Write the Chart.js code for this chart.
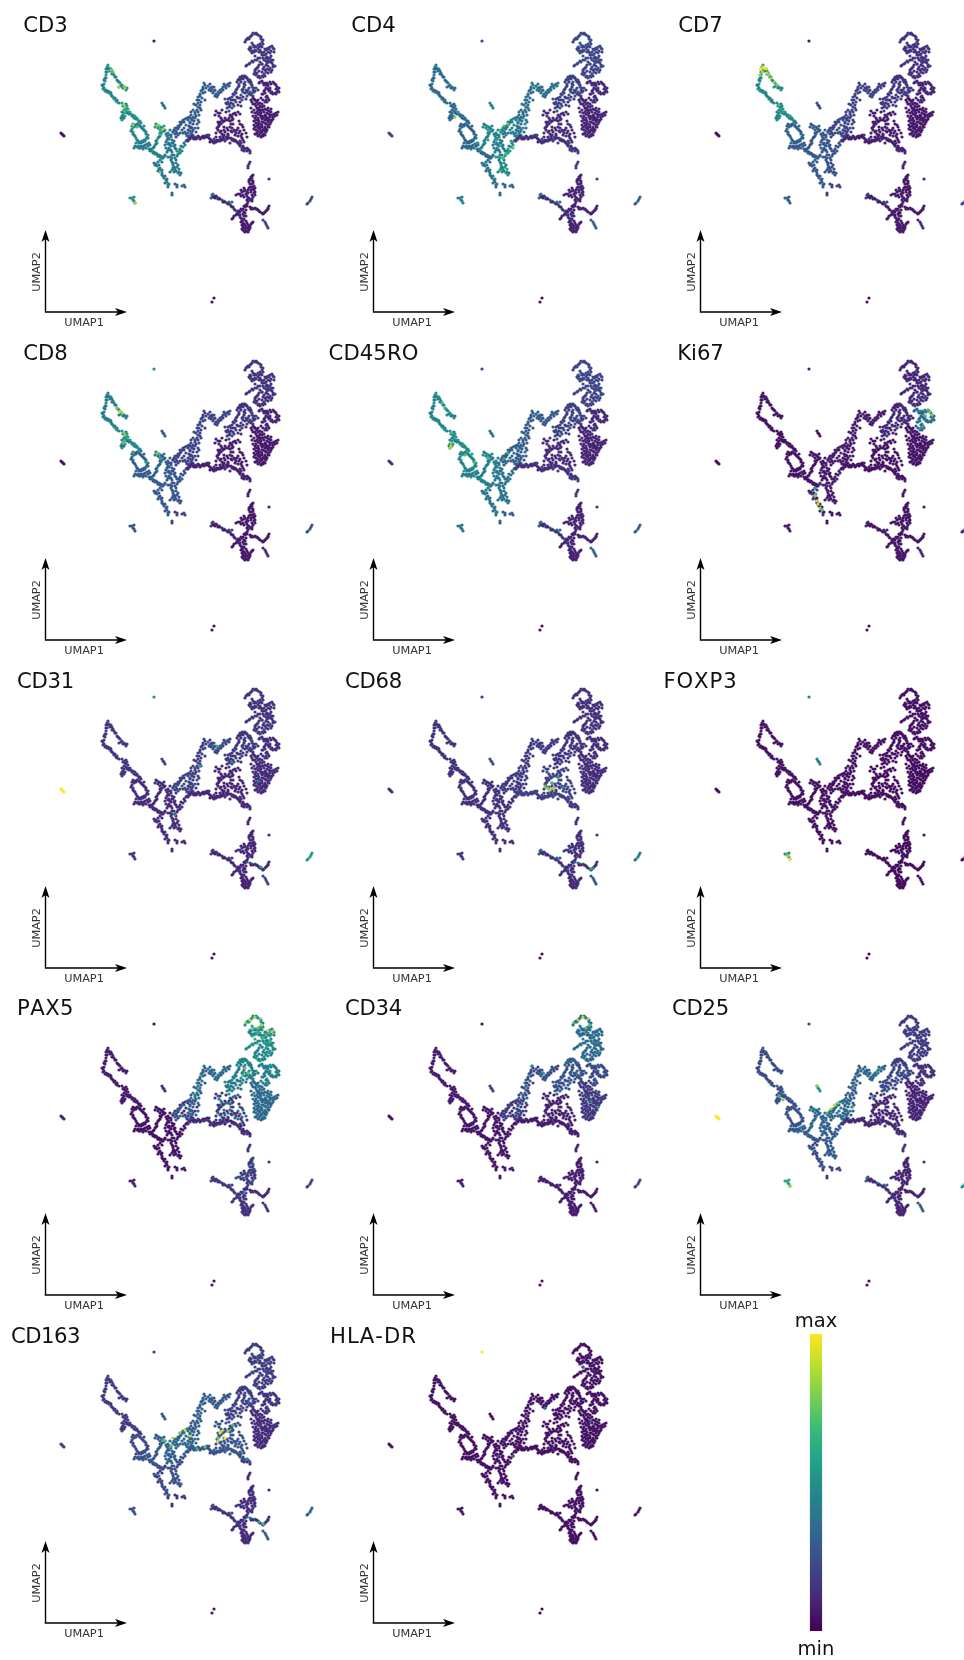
<!DOCTYPE html>
<html><head><meta charset="utf-8">
<script src="https://cdn.jsdelivr.net/npm/chart.js@4"></script>
<style>
html,body{margin:0;padding:0;background:#fff;width:964px;height:1660px;overflow:hidden}
canvas{position:absolute;filter:blur(0.35px)}
</style></head><body>
<script>
// UMAP embedding, grouped in the branches of the map [umap1, umap2]
const wingTop=[[107,67],[108,65],[106,69],[109,68],[111,69],[112,71],[113,73],[114,75],[116,77],[117,80],[119,82],[120,83],[122,85],[124,87],[125,88],[126,90],[119,87],[107,72],[106,75],[105,78],[105,81],[104,84],[103,86],[103,89],[105,91],[107,92],[109,93],[110,92]];
const wingMid=[[111,95],[113,97],[114,99],[116,101],[117,102],[122,103],[124,105],[125,107],[127,106],[128,109],[126,111],[124,113],[123,115],[123,118],[122,120],[125,116],[128,112],[130,112],[131,114],[133,115],[135,116],[137,118],[138,120],[140,121]];
const ovalLeft=[[133,124],[134,127],[136,126],[139,125],[141,127],[143,129],[145,131],[146,134],[147,137],[146,139],[144,140],[142,141],[140,142],[138,141],[136,138],[134,135],[133,132],[132,129],[141,123],[144,126],[136,143],[148,135]];
const junctionLine=[[137,147],[139,147],[141,146],[143,146],[145,145],[147,144],[149,143],[146,148],[149,149],[151,150],[152,151],[154,152],[156,153],[157,154],[159,155],[161,156],[163,157],[165,156],[143,149],[139,148]];
const centerHot=[[157,125],[159,126],[161,127],[163,129],[162,132],[161,134],[160,136],[158,138],[157,140],[157,143],[155,145],[153,148],[152,150],[164,126],[160,130],[155,127],[165,130]];
const centerB=[[168,133],[167,136],[168,138],[167,140],[169,143],[170,145],[169,148],[168,150],[172,140],[173,143],[171,137],[174,146],[165,145],[166,148],[171,150],[173,132],[170,130],[175,148],[172,152]];
const armDown=[[158,156],[160,160],[158,162],[155,165],[157,166],[160,168],[161,171],[162,173],[163,176],[164,178],[166,180],[167,182],[168,185],[168,187],[162,162],[163,158],[165,155],[158,171]];
const armRight=[[170,157],[172,158],[175,158],[177,156],[178,154],[180,153],[180,149],[183,147],[185,145],[172,162],[173,165],[175,168],[175,170],[178,173],[180,175],[172,170],[177,167],[174,172],[176,163],[179,169],[168,157],[182,151]];
const smallBits=[[175,184],[177,185],[177,187],[182,186],[184,185],[185,187],[172,193],[172,195]];
const triangle=[[132,198],[130,198],[134,197],[133,200],[134,201],[135,203]];
const upperCenter=[[175,128],[178,126],[180,125],[183,120],[185,119],[188,120],[190,118],[192,128],[173,132],[176,131],[178,135],[182,130],[185,132],[187,136],[188,133],[191,134],[193,135],[180,122],[186,125],[190,122],[195,128],[197,124],[178,129],[195,118],[171,135],[184,128]];
const spine=[[187,140],[189,138],[191,137],[193,138],[195,137],[197,138],[199,137],[201,138],[203,136],[205,136],[207,135],[209,138],[211,140],[213,142],[215,141],[217,140],[219,140],[221,139],[223,138],[226,137],[228,137],[231,138],[233,139],[235,140],[237,142],[239,144],[240,146],[242,148],[241,143],[244,148],[247,148],[249,150],[250,151],[209,135],[214,139],[225,141],[230,143]];
const riseLeft=[[190,128],[190,123],[192,120],[193,117],[195,114],[195,112],[197,110],[198,107],[198,103],[197,100],[198,97],[200,94],[201,91],[202,90],[203,87],[204,83],[199,115],[193,110],[200,105],[202,98],[198,120],[191,115],[205,92]];
const topBar=[[208,86],[210,88],[212,89],[213,93],[215,90],[216,94],[217,97],[218,92],[220,90],[222,89],[223,87],[225,86],[227,85],[228,84],[214,87],[219,93]];
const loopMid=[[218,130],[218,127],[219,124],[220,122],[222,120],[224,121],[226,120],[228,120],[230,121],[232,117],[232,120],[231,124],[230,127],[228,130],[225,132],[222,134],[220,132],[232,132],[235,131],[238,128],[240,131],[242,134],[242,138],[238,136],[235,135],[233,114],[235,113],[238,112],[230,115],[218,113],[219,116],[221,118],[243,127],[246,133],[224,127],[228,134],[240,124]];
const rightUp=[[228,102],[229,104],[230,106],[227,108],[229,111],[232,108],[231,100],[232,97],[234,95],[235,92],[236,90],[238,87],[239,84],[240,80],[240,77],[242,76],[245,76],[247,78],[250,80],[251,84],[252,87],[253,90],[245,82],[245,85],[243,89],[243,92],[246,90],[248,90],[250,92],[252,93],[241,95],[238,98],[236,102],[234,106],[247,96],[249,88],[242,100],[225,99],[256,88]];
const rightDense=[[253,98],[255,100],[257,102],[258,104],[260,106],[262,107],[263,110],[261,113],[260,115],[258,118],[258,120],[256,123],[255,127],[256,130],[257,133],[259,135],[262,135],[264,134],[266,132],[267,130],[269,127],[270,124],[272,120],[273,117],[270,115],[267,113],[265,115],[263,118],[265,120],[268,122],[262,122],[262,125],[265,127],[260,127],[263,130],[258,125],[266,124],[260,110],[264,112],[268,118],[271,112],[256,106],[254,110],[253,116],[257,112],[268,108],[255,134],[261,131],[259,121],[270,120],[274,114],[276,113]];
const rightRing=[[260,82],[263,83],[265,83],[267,83],[270,82],[273,82],[275,84],[277,87],[278,90],[277,92],[275,93],[272,92],[270,90],[270,88],[268,86],[265,90],[265,93],[267,96],[268,98],[266,100],[265,102],[262,94]];
const topLoop=[[246,40],[248,38],[250,37],[252,35],[255,34],[257,34],[260,36],[261,39],[262,42],[260,44],[258,45],[255,46],[253,45],[250,47],[250,50],[252,53],[254,52],[255,50],[258,49],[260,50],[262,53],[263,55],[266,50],[268,48],[270,47],[273,48],[265,55],[267,57],[270,58],[271,60],[272,63],[273,67],[270,53],[268,60],[267,63],[264,60],[260,58],[257,60],[253,62],[250,63],[247,65],[262,47],[255,56],[252,43]];
const lowerRing=[[258,67],[256,69],[255,72],[256,75],[258,77],[260,78],[263,77],[264,74],[265,70],[264,67],[262,64],[268,73],[269,70],[270,68],[266,65],[242,77],[240,79],[238,80],[244,76],[247,78],[250,82]];
const bottomOval=[[252,176],[252,178],[253,181],[253,183],[254,186],[254,190],[254,193],[253,197],[252,199],[250,200],[248,198],[248,193],[248,190],[250,187],[250,184],[249,182],[250,179],[242,192],[243,195],[240,194],[236,195],[238,194],[245,190],[246,194],[251,192],[248,202],[246,205],[245,207],[243,209],[242,210],[240,212],[238,213],[236,215],[233,218],[245,213],[246,210],[244,216]];
const diagLine=[[212,195],[211,198],[213,194],[214,196],[217,197],[219,198],[222,200],[224,201],[227,203],[230,204],[232,202],[229,202],[232,207],[234,209],[237,212],[239,215],[240,217],[242,219],[243,220]];
const hook=[[250,207],[252,208],[255,208],[257,209],[259,211],[262,213],[264,213],[265,212],[267,210],[268,208],[247,206]];
const bottomFoot=[[243,223],[243,226],[243,228],[243,230],[245,225],[245,228],[248,225],[248,228],[247,231],[248,232],[252,223],[250,226],[250,228],[245,232],[241,222],[246,221]];
const dotTop=[[154,41]];
const leftStub=[[61,133],[62,134],[63,135],[64,136]];
const midStub=[[162,103],[163,105],[164,106],[165,108]];
const upperStub=[[242,150],[244,151],[247,151],[250,153],[250,162],[249,164],[248,166],[248,168],[269,179]];
const edgeStub=[[312,197],[311,199],[310,201],[308,203],[307,204]];
const lowDots=[[214,298],[212,302]];
const rightStub=[[263,220],[265,222],[266,224],[267,226],[268,228]];

const branches=[wingTop,wingMid,ovalLeft,junctionLine,centerHot,centerB,armDown,armRight,smallBits,triangle,upperCenter,spine,riseLeft,topBar,loopMid,rightUp,rightDense,rightRing,topLoop,lowerRing,bottomOval,diagLine,hook,bottomFoot,dotTop,leftStub,midStub,upperStub,edgeStub,lowDots,rightStub];

// second tracing: cells between the ones above, usually of a different tone
const fillWing=[[108,69],[110,71],[112,74],[115,77],[118,81],[121,86],[123,88],[127,88],[106,72],[106,78],[104,80],[102,85],[104,88],[106,90],[108,91],[111,93],[112,96],[115,98],[117,100],[119,103],[123,106],[126,104],[126,108],[124,110],[122,112],[122,116],[124,118],[121,118],[127,113],[129,114],[132,116],[134,118],[136,119],[139,122]];
const fillOval=[[132,126],[135,125],[137,124],[140,126],[142,128],[144,130],[146,132],[148,138],[145,141],[143,142],[141,143],[139,143],[137,140],[135,136],[133,134],[131,131],[138,146],[140,148],[142,147],[144,147],[148,146],[150,145],[150,151],[153,153],[155,154],[158,156],[160,157],[162,158],[135,146],[134,148]];
const fillCenter=[[156,124],[158,128],[162,128],[164,131],[160,133],[159,137],[156,141],[156,144],[154,147],[151,149],[166,134],[169,135],[169,139],[166,142],[168,144],[171,146],[170,150],[167,152],[172,143],[174,141],[175,145],[176,149],[177,151],[179,151],[181,146],[184,143],[186,141],[172,155],[174,155],[176,160],[171,160],[173,163],[178,165],[174,167],[176,171],[179,172],[181,173],[173,168],[170,172],[156,164],[159,165],[159,169],[162,170],[162,175],[165,176],[165,183],[167,179],[169,184],[154,163]];
const fillUpper=[[174,130],[177,128],[179,127],[181,124],[182,122],[184,122],[187,118],[189,117],[192,119],[193,124],[191,127],[193,130],[190,131],[188,130],[186,134],[183,133],[180,133],[177,133],[175,134],[176,137],[189,136],[192,132],[196,132],[198,128],[199,122],[194,121],[196,116],[198,112],[200,108],[201,102],[199,100],[200,96],[203,93],[203,89],[205,85],[201,110],[196,105],[194,104],[191,112],[189,126],[205,100],[206,88],[209,90],[211,91],[212,87],[214,91],[215,96],[218,95],[221,92],[223,90],[226,88],[229,86],[224,84],[230,83],[210,84]];
const fillSpine=[[188,141],[190,139],[192,136],[194,139],[196,139],[198,136],[200,139],[202,137],[204,138],[206,137],[208,137],[210,139],[212,141],[214,143],[216,142],[218,141],[220,141],[222,140],[224,139],[227,139],[229,138],[232,140],[234,141],[236,141],[238,143],[240,145],[243,146],[245,149],[248,149],[210,142],[216,137],[220,137],[224,135],[216,133],[217,128],[219,126],[218,122],[221,124],[223,122],[225,118],[229,118],[231,116],[233,119],[233,124],[232,128],[227,128],[224,130],[221,131],[223,136],[228,135],[231,131],[234,130],[237,130],[239,133],[241,136],[243,140],[240,141],[236,133],[244,130],[242,125],[239,121],[236,115],[240,114],[222,110],[226,112],[220,113],[216,111],[215,115],[247,137],[244,142]];
const fillRightUp=[[227,104],[229,107],[231,103],[233,100],[230,98],[233,94],[236,93],[237,89],[239,86],[241,82],[241,78],[243,77],[246,77],[248,80],[249,82],[251,82],[252,85],[254,88],[254,92],[244,84],[244,87],[242,90],[245,93],[247,92],[249,94],[251,95],[253,96],[240,98],[237,97],[235,100],[233,104],[240,102],[243,97],[246,99],[228,99],[226,103],[238,105],[241,106],[255,91],[258,90]];
const fillDense=[[254,99],[256,101],[258,100],[260,103],[262,104],[264,106],[265,109],[267,110],[269,111],[271,109],[262,110],[260,112],[258,114],[256,116],[255,118],[254,121],[256,120],[257,126],[254,125],[254,129],[258,128],[258,131],[260,129],[260,133],[262,132],[264,129],[265,131],[266,129],[268,127],[268,125],[271,122],[273,119],[275,116],[272,115],[269,114],[266,116],[264,117],[262,119],[261,117],[263,122],[265,123],[267,120],[269,120],[270,117],[266,118],[258,123],[260,124],[262,127],[256,134],[258,136],[261,137],[263,136],[265,135],[253,104],[255,104],[252,102],[251,100],[257,108],[259,108],[258,110],[255,113],[252,112],[251,108],[262,116],[278,112],[277,115]];
const fillRing=[[259,83],[262,81],[264,85],[266,85],[268,84],[271,84],[274,83],[276,85],[276,89],[279,88],[279,92],[276,94],[273,94],[271,93],[269,91],[268,89],[266,88],[264,91],[263,94],[266,97],[269,100],[267,102],[263,100],[261,98]];
const fillTop=[[245,42],[247,39],[249,39],[251,36],[253,33],[256,33],[258,35],[261,37],[263,40],[263,44],[261,46],[259,47],[256,47],[254,47],[251,48],[249,49],[251,51],[253,51],[256,51],[259,52],[261,52],[262,55],[264,52],[265,49],[267,49],[269,49],[272,46],[274,49],[274,52],[271,51],[268,52],[266,54],[266,58],[268,58],[271,56],[273,60],[271,62],[273,65],[275,66],[269,62],[266,61],[263,58],[258,58],[255,60],[252,61],[249,64],[246,66],[262,64],[259,65],[257,68],[255,70],[254,74],[257,73],[259,76],[262,76],[265,76],[266,72],[267,69],[268,66],[263,69],[260,62],[241,78],[243,79],[245,77],[239,79],[237,82],[249,80],[272,70],[271,72],[259,71],[262,72]];
const fillBottom=[[251,177],[251,180],[252,184],[252,187],[253,189],[255,188],[255,192],[255,195],[252,195],[252,201],[249,198],[247,196],[247,192],[249,188],[251,190],[249,180],[253,175],[244,191],[241,190],[244,188],[241,196],[244,197],[247,200],[247,204],[244,206],[241,209],[239,211],[237,214],[234,216],[232,219],[244,212],[243,214],[246,216],[213,197],[215,198],[216,196],[218,199],[220,199],[223,202],[225,202],[228,204],[231,206],[233,207],[235,210],[238,211],[240,215],[241,218],[244,219],[251,209],[253,209],[256,209],[258,210],[260,212],[263,214],[266,211],[268,209],[269,206],[244,224],[242,225],[242,229],[244,231],[246,227],[247,223],[249,227],[249,230],[246,230],[251,224],[253,222],[242,221]];
const fillBranches=[fillWing,fillOval,fillCenter,fillUpper,fillSpine,fillRightUp,fillDense,fillRing,fillTop,fillBottom];

// expression of each marker per branch (same order as branches), 0 = min, 1 = max
const valCD3=[.52,.58,.5,.45,.58,.42,.42,.45,.33,.5,.32,.16,.33,.33,.08,.25,.08,.13,.2,.15,.09,.36,.08,.08,.05,.05,.4,.15,.22,.05,.2];
const valCD4=[.4,.36,.36,.42,.52,.45,.35,.55,.33,.45,.48,.22,.35,.35,.12,.25,.12,.15,.28,.2,.1,.4,.1,.1,.22,.22,.45,.2,.3,.05,.3];
const valCD7=[.55,.5,.36,.3,.32,.3,.3,.25,.2,.3,.25,.12,.2,.2,.07,.2,.07,.12,.18,.12,.08,.2,.08,.08,.05,.05,.22,.1,.2,.05,.12];
const valCD8=[.45,.55,.36,.3,.45,.3,.3,.26,.2,.25,.2,.12,.22,.22,.08,.2,.07,.12,.18,.12,.07,.2,.07,.07,.5,.05,.3,.1,.25,.05,.12];
const valCD45RO=[.5,.55,.55,.5,.52,.45,.4,.4,.3,.4,.35,.2,.3,.3,.12,.25,.12,.15,.25,.2,.1,.35,.1,.1,.2,.15,.4,.18,.3,.05,.3];
const valKi67=[.07,.05,.06,.07,.05,.06,.18,.1,.05,.08,.1,.06,.1,.1,.06,.15,.07,.5,.14,.2,.06,.12,.06,.06,.1,.05,.06,.07,.12,.05,.1];
const valCD31=[.2,.18,.15,.15,.13,.14,.12,.14,.12,.15,.25,.14,.2,.3,.1,.2,.15,.15,.18,.2,.14,.2,.28,.1,.5,1,.2,.12,.55,.05,.2];
const valCD68=[.17,.16,.15,.15,.14,.15,.14,.15,.13,.15,.2,.22,.2,.2,.22,.18,.15,.17,.17,.18,.18,.3,.36,.14,.18,.14,.25,.14,.42,.05,.25];
const valFOXP3=[.07,.06,.05,.06,.05,.05,.05,.05,.05,.45,.06,.05,.06,.07,.04,.05,.04,.05,.06,.05,.04,.05,.04,.04,.4,.04,.45,.05,.05,.03,.05];
const valPAX5=[.1,.08,.06,.05,.06,.06,.05,.06,.06,.1,.14,.07,.4,.4,.35,.5,.42,.52,.6,.55,.25,.2,.08,.12,.05,.1,.12,.15,.2,.05,.15];
const valCD34=[.1,.08,.07,.07,.07,.07,.07,.07,.07,.08,.14,.08,.3,.28,.12,.32,.22,.3,.45,.38,.1,.1,.08,.08,.05,.05,.2,.1,.2,.05,.08];
const valCD25=[.27,.32,.26,.36,.45,.35,.2,.3,.2,.6,.42,.15,.32,.36,.12,.27,.12,.16,.22,.18,.12,.3,.1,.1,.2,1,.5,.15,.5,.05,.3];
const valCD163=[.22,.2,.2,.3,.3,.35,.15,.22,.14,.25,.35,.3,.28,.25,.28,.25,.15,.18,.22,.2,.16,.25,.36,.12,.2,.2,.28,.12,.3,.05,.28];
const valHLADR=[.06,.05,.05,.05,.05,.05,.05,.05,.05,.06,.08,.05,.07,.06,.05,.06,.07,.06,.07,.07,.06,.05,.05,.04,1,.05,.05,.05,.05,.03,.05];

// tone of the second tracing per marker (same order as fillBranches)
const fillCD3=[.42,.42,.38,.26,.1,.17,.08,.1,.15,.08];
const fillCD4=[.32,.3,.42,.38,.12,.18,.1,.12,.2,.1];
const fillCD7=[.42,.28,.25,.2,.08,.15,.07,.1,.14,.07];
const fillCD8=[.4,.28,.27,.2,.08,.15,.07,.1,.14,.07];
const fillCD45RO=[.42,.42,.38,.28,.12,.18,.1,.12,.2,.1];
const fillKi67=[.05,.05,.07,.07,.05,.1,.06,.3,.1,.06];
const fillCD31=[.14,.12,.12,.18,.1,.15,.12,.13,.14,.1];
const fillCD68=[.13,.13,.13,.15,.18,.14,.12,.13,.13,.12];
const fillFOXP3=[.05,.05,.05,.05,.04,.05,.04,.05,.05,.04];
const fillPAX5=[.07,.05,.05,.3,.15,.38,.32,.4,.45,.15];
const fillCD34=[.07,.06,.06,.2,.08,.22,.15,.2,.32,.08];
const fillCD25=[.2,.25,.28,.3,.1,.2,.1,.12,.17,.1];
const fillCD163=[.15,.25,.28,.32,.25,.18,.12,.14,.18,.12];
const fillHLADR=[.05,.05,.05,.05,.05,.05,.05,.05,.05,.05];

// individual bright cells per marker [umap1, umap2, value]
const hotCD3=[[111,70,.8],[113,72,.75],[125,88,.85],[124,86,.8],[119,87,.85],[124,105,.85],[125,107,.8],[124,111,.7],[133,125,.85],[137,127,.7],[157,125,.8],[159,126,.75],[163,129,.85],[160,172,.75],[135,203,.85],[178,150,.7],[160,134,.65]];
const hotCD4=[[127,117,.8],[130,112,.6],[176,126,.7],[180,124,.75],[172,130,.7],[185,148,.75],[183,141,.6],[160,140,.6],[150,143,.55],[168,140,.6],[175,158,.7],[178,154,.65]];
const hotCD7=[[106,69,1],[108,67,.95],[109,68,1],[111,69,.95],[112,73,.9],[114,75,.85],[116,78,.85],[119,82,.85],[122,85,.8],[105,75,.8],[107,72,.85],[124,105,.7],[128,112,.6],[126,109,.6],[135,116,.6]];
const hotCD8=[[120,83,.9],[122,85,.85],[117,80,.8],[124,105,.8],[125,107,.8],[123,115,.75],[124,113,.7],[157,125,.8],[159,126,.7],[133,125,.6],[146,134,.55]];
const hotCD45RO=[[123,115,.85],[123,118,.9],[122,120,.85],[124,105,.7],[114,75,.7],[117,80,.7],[146,134,.7],[137,127,.7],[180,125,.65],[176,131,.6],[160,130,.65]];
const hotKi67=[[160,160,.55],[161,166,.7],[160,168,.8],[162,173,.9],[163,176,.95],[165,180,.85],[167,182,.75],[275,84,.8],[277,87,.8],[270,88,.7],[268,98,.6],[273,82,.7]];
const hotCD31=[[217,90,.6],[232,106,.5],[200,110,.6],[175,159,.5],[261,211,.55],[258,125,.45]];
const hotCD68=[[217,130,.75],[222,134,.9],[225,132,.85],[220,132,.8],[224,127,.7],[230,121,.55],[235,131,.5],[263,213,.6],[265,212,.5]];
const hotFOXP3=[[135,203,1],[133,200,.9],[132,198,.7]];
const hotPAX5=[[246,40,.8],[250,37,.9],[255,34,.85],[260,36,.8],[262,42,.85],[268,48,.9],[273,48,.85],[258,45,.75],[253,45,.75],[270,58,.7],[245,85,.8],[248,90,.75],[243,92,.7],[263,55,.7]];
const hotCD34=[[250,37,.85],[255,34,.9],[260,36,.85],[262,42,.7],[246,40,.7],[258,45,.7],[215,90,.55],[204,83,.5],[270,124,.55],[263,118,.5]];
const hotCD25=[[180,122,.9],[176,126,.85],[183,120,.8],[172,130,.7],[128,117,.8],[124,113,.7],[162,103,.8],[135,203,.85],[225,86,.6],[222,89,.6],[218,113,.5],[197,124,.6]];
const hotCD163=[[185,119,.9],[180,122,.8],[173,127,.85],[190,125,.9],[165,130,.7],[222,120,.9],[220,122,.95],[225,127,1],[218,127,.8],[228,120,.85],[218,130,.9],[233,114,.7],[171,135,.75],[163,129,.7],[205,136,.75],[197,138,.65],[247,148,.5],[263,213,.7],[259,211,.6]];
const hotHLADR=[[255,56,.3],[263,110,.35],[170,145,.3],[185,145,.35],[217,97,.35]];

const markerNames=["CD3","CD4","CD7","CD8","CD45RO","Ki67","CD31","CD68","FOXP3","PAX5","CD34","CD25","CD163","HLA-DR"];
const titleWidths=[44.5,44.5,44.5,44.5,90,46.5,57,57,74,57,57,57,69,87];
const markerValues=[valCD3,valCD4,valCD7,valCD8,valCD45RO,valKi67,valCD31,valCD68,valFOXP3,valPAX5,valCD34,valCD25,valCD163,valHLADR];
const markerFill=[fillCD3,fillCD4,fillCD7,fillCD8,fillCD45RO,fillKi67,fillCD31,fillCD68,fillFOXP3,fillPAX5,fillCD34,fillCD25,fillCD163,fillHLADR];
const markerHot=[hotCD3,hotCD4,hotCD7,hotCD8,hotCD45RO,hotKi67,hotCD31,hotCD68,hotFOXP3,hotPAX5,hotCD34,hotCD25,hotCD163,hotHLADR];

const viridisStops=["#440154","#482878","#3e4989","#31688e","#26828e","#1f9e89","#35b779","#6ece58","#b5de2b","#fde725"];
function hex(c){return [1,3,5].map(i=>parseInt(c.substr(i,2),16));}
function viridis(v){
  const p=Math.min(Math.max(v,0),1)*(viridisStops.length-1),i=Math.min(Math.floor(p),viridisStops.length-2),t=p-i;
  const a=hex(viridisStops[i]),b=hex(viridisStops[i+1]);
  return `rgb(${a.map((x,k)=>Math.round(x+(b[k]-x)*t)).join(",")})`;
}

const PANEL=328, COLX=327.7, ROWY=327.8, FONT='"DejaVu Sans"';
const axisOrigin=[45.5,312], axisEndX=127, axisEndY=230;

const panelDecor={id:"panelDecor",afterDraw(chart,args,o){
  const c=chart.ctx,x=chart.scales.x,y=chart.scales.y;
  const x0=x.getPixelForValue(axisOrigin[0]),y0=y.getPixelForValue(axisOrigin[1]);
  const x1=x.getPixelForValue(axisEndX),y1=y.getPixelForValue(axisEndY);
  c.save();
  c.strokeStyle="#000";c.fillStyle="#000";c.lineWidth=1.4;
  c.beginPath();c.moveTo(x0,y1+6);c.lineTo(x0,y0);c.lineTo(x1-6,y0);c.stroke();
  c.beginPath();c.moveTo(x1,y0);c.lineTo(x1-12,y0-4);c.lineTo(x1-9,y0);c.lineTo(x1-12,y0+4);c.closePath();c.fill();
  c.beginPath();c.moveTo(x0,y1);c.lineTo(x0-4,y1+12);c.lineTo(x0,y1+9);c.lineTo(x0+4,y1+12);c.closePath();c.fill();
  c.fillStyle="#333";c.font=`11.3px ${FONT}`;c.fontKerning="none";c.textAlign="center";c.textBaseline="alphabetic";
  c.fillText("UMAP1",84,326);
  c.translate(40,272);c.rotate(-Math.PI/2);c.fillText("UMAP2",0,0);
  c.restore();
  c.save();c.fillStyle="#111";c.font=`21.2px ${FONT}`;c.fontKerning="none";c.textAlign="center";c.textBaseline="alphabetic";
  const w=c.measureText(o.title).width;
  c.letterSpacing=((o.width-w)/o.title.length).toFixed(2)+"px";
  c.fillText(o.title,45.5,32);c.restore();
}};
Chart.register(panelDecor);

markerNames.forEach((name,m)=>{
  const cv=document.createElement("canvas");
  const col=m%3,row=Math.floor(m/3);
  cv.style.left=Math.round(col*COLX)+"px";cv.style.top=Math.round(row*ROWY)+"px";
  cv.style.width=PANEL+"px";cv.style.height=PANEL+"px";cv.width=PANEL;cv.height=PANEL;
  document.body.appendChild(cv);
  const pts=[],cols=[];
  branches.forEach((b,i)=>b.forEach(p=>{pts.push({x:p[0],y:p[1]});cols.push(viridis(markerValues[m][i]));}));
  fillBranches.forEach((b,i)=>b.forEach(p=>{pts.push({x:p[0],y:p[1]});cols.push(viridis(markerFill[m][i]));}));
  const hot=markerHot[m];
  new Chart(cv,{type:"scatter",data:{datasets:[
    {label:name,data:pts,order:2,pointRadius:1.6,pointBorderWidth:0,pointBackgroundColor:cols},
    {label:name+" high",data:hot.map(p=>({x:p[0],y:p[1]})),order:1,pointRadius:1.6,pointBorderWidth:0,pointBackgroundColor:hot.map(p=>viridis(p[2]))}
  ]},options:{responsive:false,animation:false,events:[],layout:{padding:0,autoPadding:false},
    scales:{x:{type:"linear",min:0,max:PANEL,display:false},y:{type:"linear",min:0,max:PANEL,reverse:true,display:false}},
    plugins:{legend:{display:false},tooltip:{enabled:false},panelDecor:{title:name,width:titleWidths[m]}}}});
});

// colour bar
const barLabels=["max","min"];
const cb=document.createElement("canvas");
cb.style.left="776px";cb.style.top="1300px";cb.style.width="80px";cb.style.height="360px";cb.width=80;cb.height=360;
document.body.appendChild(cb);
const cbDecor={id:"cbDecor",afterDraw(chart){
  const c=chart.ctx;c.save();c.fillStyle="#111";c.font=`19.5px ${FONT}`;c.textAlign="center";c.textBaseline="alphabetic";
  c.fillText(barLabels[0],40,27);c.fillText(barLabels[1],40,355);c.restore();
}};
new Chart(cb,{type:"bar",plugins:[cbDecor],data:{labels:["colour"],datasets:[{data:[[0,1]],barThickness:11.5,borderWidth:0,
  backgroundColor(ctx){const a=ctx.chart.chartArea;if(!a)return "#000";
    const g=ctx.chart.ctx.createLinearGradient(0,a.bottom,0,a.top);
    viridisStops.forEach((s,i)=>g.addColorStop(i/(viridisStops.length-1),s));return g;}}]},
  options:{responsive:false,animation:false,events:[],layout:{padding:{top:34,bottom:29},autoPadding:false},
    scales:{x:{display:false},y:{min:0,max:1,display:false}},
    plugins:{legend:{display:false},tooltip:{enabled:false},panelDecor:false}}});
</script></body></html>
